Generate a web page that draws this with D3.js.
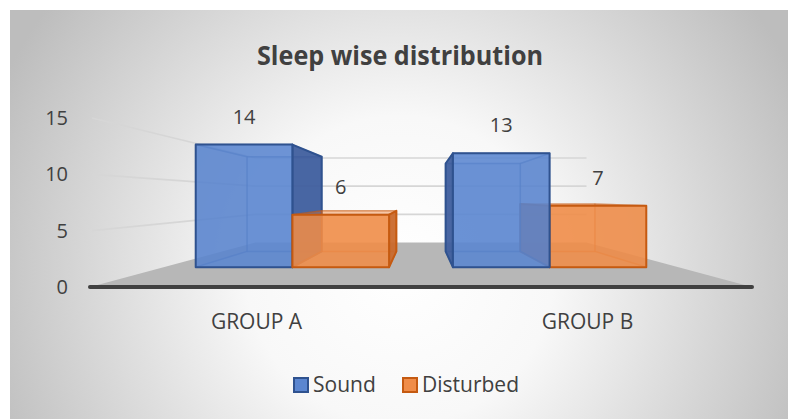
<!DOCTYPE html>
<html>
<head>
<meta charset="utf-8">
<script src="https://cdn.jsdelivr.net/npm/d3@7"></script>
<style>
  html, body { margin: 0; padding: 0; background: #fff; }
  text { font-family: "Open Sans", "Noto Sans", sans-serif; fill: #404040; }
</style>
</head>
<body>
<div id="chart"></div>
<script>
var groups = ["GROUP A", "GROUP B"]
var keys = ["Sound", "Disturbed"]
var sound = [14, 13]
var disturbed = [6, 7]
var yTicks = [0, 5, 10, 15]

var colors = {
  Sound: {face: "#5b86d0", side: "#3e5c9c", line: "#2f528f"},
  Disturbed: {face: "#f08d49", side: "#c9682a", line: "#c55a11"}
}

var width = 788, height = 419

var svg = d3.select("#chart")
  .append("svg")
  .attr("width", width)
  .attr("height", height)

// background gradient
var defs = svg.append("defs")
var grad = defs.append("radialGradient")
  .attr("id", "bg")
  .attr("gradientUnits", "userSpaceOnUse")
  .attr("cx", 400).attr("cy", 270).attr("r", 440)
grad.append("stop").attr("offset", "0").attr("stop-color", "#ffffff")
grad.append("stop").attr("offset", "0.35").attr("stop-color", "#f8f8f8")
grad.append("stop").attr("offset", "1").attr("stop-color", "#bdbdbd")

svg.append("rect")
  .attr("x", 10).attr("y", 10)
  .attr("width", width - 10).attr("height", height - 10)
  .attr("fill", "url(#bg)")

// front plane scales
var x = d3.scaleBand()
  .domain(groups)
  .range([90, 752])
var xInner = d3.scaleBand()
  .domain(keys)
  .range([0, x.bandwidth()])
  .paddingOuter(0.33)

var y = d3.scaleLinear()
  .domain([0, 15])
  .range([287, 118])

// fake perspective: shrink toward vanishing point with depth factor f
var vx = 421, vy = 198
var fBack = 0.5, fBarFront = 0.777, fBarBack = 0.6
function P(X, Y, f) {
  return [vx + f * (X - vx), vy + f * (Y - vy)]
}
var line = d3.line()

var x0 = x.range()[0], x1 = x.range()[1]

// floor
svg.append("path")
  .attr("d", line([P(x0, y(0), 1), P(x1, y(0), 1), P(x1, y(0), fBack), P(x0, y(0), fBack)]) + "Z")
  .attr("fill", "#b7b7b7")

// gridlines: left wall and back wall
var grid = svg.append("g")
  .attr("stroke", "#d6d6d6")
  .attr("stroke-width", 1.6)
  .attr("fill", "none")
grid.selectAll(".side")
  .data(yTicks.filter(d => d > 0))
  .enter()
  .append("path")
  .attr("d", d => line([P(x0 + 2, y(d), 1), P(x0, y(d), fBack), P(x1, y(d), fBack)]))

// bars
var bars = []
groups.forEach(function(g, i) {
  bars.push({group: g, key: "Sound", value: sound[i]})
  bars.push({group: g, key: "Disturbed", value: disturbed[i]})
})
bars.forEach(function(b) {
  b.X0 = x(b.group) + xInner(b.key)
  b.X1 = b.X0 + xInner.bandwidth()
  b.dist = Math.abs((b.X0 + b.X1) / 2 - vx)
})
// farthest from the vanishing point first
bars.sort((a, b) => b.dist - a.dist)

var barG = svg.append("g")
bars.forEach(function(b) {
  var c = colors[b.key]
  var Yb = y(0), Yt = y(b.value)
  function face(pts) { return line(pts) + "Z" }
  var back = [P(b.X0, Yb, fBarBack), P(b.X1, Yb, fBarBack), P(b.X1, Yt, fBarBack), P(b.X0, Yt, fBarBack)]
  var left = [P(b.X0, Yb, fBarFront), P(b.X0, Yb, fBarBack), P(b.X0, Yt, fBarBack), P(b.X0, Yt, fBarFront)]
  var right = [P(b.X1, Yb, fBarFront), P(b.X1, Yb, fBarBack), P(b.X1, Yt, fBarBack), P(b.X1, Yt, fBarFront)]
  var top = [P(b.X0, Yt, fBarFront), P(b.X1, Yt, fBarFront), P(b.X1, Yt, fBarBack), P(b.X0, Yt, fBarBack)]
  var bottom = [P(b.X0, Yb, fBarFront), P(b.X1, Yb, fBarFront), P(b.X1, Yb, fBarBack), P(b.X0, Yb, fBarBack)]
  var front = [P(b.X0, Yb, fBarFront), P(b.X1, Yb, fBarFront), P(b.X1, Yt, fBarFront), P(b.X0, Yt, fBarFront)]
  var g = barG.append("g")
    .attr("stroke", c.line)
    .attr("stroke-linejoin", "round")
  var rightVisible = b.X1 < vx
  g.append("path").attr("d", face(back)).attr("fill", c.face).attr("fill-opacity", 0.35).attr("stroke-opacity", 0.35).attr("stroke-width", 1.5)
  g.append("path").attr("d", face(bottom)).attr("fill", c.face).attr("fill-opacity", 0.2).attr("stroke-opacity", 0.35).attr("stroke-width", 1.5)
  g.append("path").attr("d", face(top)).attr("fill", c.face).attr("fill-opacity", 0.2).attr("stroke-opacity", 0.35).attr("stroke-width", 1.5)
  g.append("path").attr("d", face(rightVisible ? left : right)).attr("fill", c.side).attr("fill-opacity", 0.25).attr("stroke-opacity", 0.35).attr("stroke-width", 1.5)
  g.append("path").attr("d", face(rightVisible ? right : left)).attr("fill", c.side).attr("fill-opacity", 0.92).attr("stroke-width", 2)
  g.append("path").attr("d", face(front)).attr("fill", c.face).attr("fill-opacity", 0.85).attr("stroke-width", 2)
})

// front edge of floor
svg.append("line")
  .attr("x1", x0).attr("x2", x1)
  .attr("y1", y(0)).attr("y2", y(0))
  .attr("stroke", "#404040")
  .attr("stroke-width", 4)
  .attr("stroke-linecap", "round")

// data labels
svg.selectAll(".lbl")
  .data(bars)
  .enter()
  .append("text")
  .attr("class", "lbl")
  .attr("x", d => P((d.X0 + d.X1) / 2, 0, fBarFront)[0])
  .attr("y", d => P(0, y(d.value), fBarFront)[1] - 21)
  .attr("text-anchor", "middle")
  .style("font-size", "20px")
  .text(d => d.value)

// y axis labels
svg.selectAll(".tick")
  .data(yTicks)
  .enter()
  .append("text")
  .attr("x", 68)
  .attr("y", d => y(d) + 7)
  .attr("text-anchor", "end")
  .style("font-size", "20px")
  .text(d => d)

// category labels
svg.selectAll(".cat")
  .data(groups)
  .enter()
  .append("text")
  .attr("x", d => x(d) + x.bandwidth() / 2 + 1)
  .attr("y", 329)
  .attr("text-anchor", "middle")
  .style("font-size", "21px")
  .text(d => d)

// title
svg.append("text")
  .attr("x", 400)
  .attr("y", 65)
  .attr("text-anchor", "middle")
  .attr("textLength", 286)
  .attr("lengthAdjust", "spacingAndGlyphs")
  .style("font-size", "27px")
  .style("font-weight", "bold")
  .text("Sleep wise distribution")

// legend
var legendX = [293, 402]
var legend = svg.selectAll(".leg")
  .data(keys)
  .enter()
  .append("g")
  .attr("transform", (d, i) => "translate(" + legendX[i] + ",377)")
legend.append("rect")
  .attr("x", 1).attr("y", 1)
  .attr("width", 14).attr("height", 14)
  .attr("fill", d => colors[d].face)
  .attr("stroke", d => colors[d].line)
  .attr("stroke-width", 2)
legend.append("text")
  .attr("x", 20)
  .attr("y", 15)
  .style("font-size", "21px")
  .text(d => d)
</script>
</body>
</html>
